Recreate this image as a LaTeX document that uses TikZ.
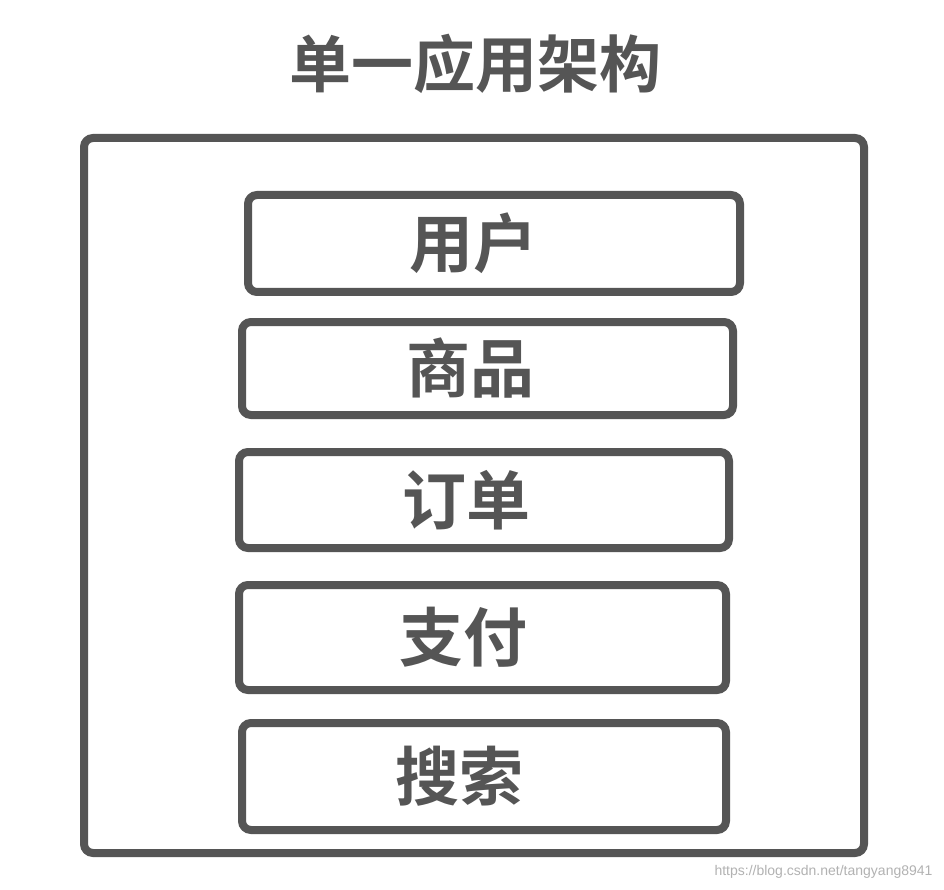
\documentclass[tikz,border=0pt]{standalone}
\usepackage{fontspec}
\newfontfamily\cjk{Noto Sans CJK SC Bold}
\setmainfont{Liberation Sans}
\definecolor{g}{HTML}{555555}
\begin{document}
\begin{tikzpicture}[x=1pt,y=-1pt,
 box/.style={draw=g,line width=8pt,rounded corners=9pt},
 lab/.style={text=g,font=\cjk\fontsize{64}{70}\selectfont}]
\useasboundingbox[fill=white] (0,0) rectangle (944,890);
\node[lab,font=\cjk\fontsize{62}{68}\selectfont] (t) at (475,64) {单一应用架构};
\draw[box] (84,138) rectangle (864,853);
\foreach \n/\a/\b/\c/\d/\s/\x in {u/248/195/740/292/用户/473,p/242/322/733/415/商品/470,o/239/452/729/548/订单/466,z/239/585/726/690/支付/463,s/242/723/726/830/搜索/459}{
 \draw[box] (\a,\b) rectangle (\c,\d);
 \node[lab] (\n) at (\x,{(\b+\d)/2}) {\s};
}
\node[text=gray!60,font=\fontsize{14}{16}\selectfont,anchor=east] (w) at (936,872) {https://blog.csdn.net/tangyang8941};
\end{tikzpicture}
\end{document}
